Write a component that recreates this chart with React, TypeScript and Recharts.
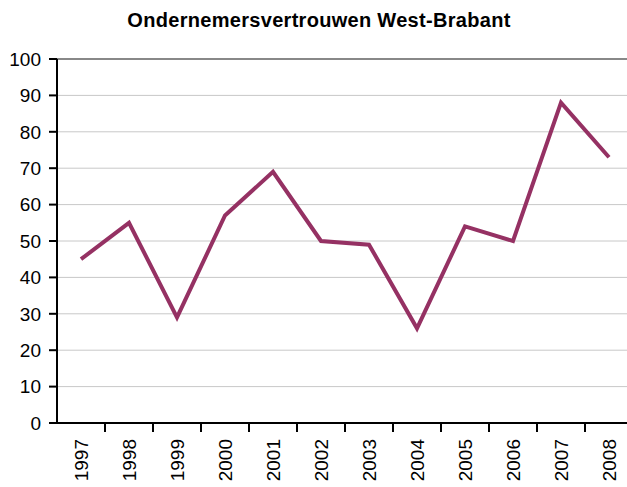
import React from 'react';
import { LineChart, Line, XAxis, YAxis, CartesianGrid, ReferenceLine } from 'recharts';

const years = ['1997', '1998', '1999', '2000', '2001', '2002', '2003', '2004', '2005', '2006', '2007', '2008'];
const confidence = [45, 55, 29, 57, 69, 50, 49, 26, 54, 50, 88, 73];
const yTicks = [0, 10, 20, 30, 40, 50, 60, 70, 80, 90, 100];

// categories sit in the middle of each band, tick marks on the band edges (Excel style)
const data = years.map((year, i) => ({ pos: i + 0.5, year, value: confidence[i] }));
const xTicks: number[] = [];
for (let i = 0; i <= years.length; i++) {
  xTicks.push(i);
  if (i < years.length) xTicks.push(i + 0.5);
}

const font = '"Liberation Sans", Arial, sans-serif';

const YearTick = (props: any) => {
  const { x, y, payload } = props;
  const v = payload.value;
  if (Number.isInteger(v)) {
    if (v === 0) return <g />;
    return <line x1={x} y1={y} x2={x} y2={y + 9} stroke="#000" strokeWidth={2} />;
  }
  const label = years[Math.floor(v)];
  return (
    <text
      x={x}
      y={y + 16}
      transform={`rotate(-90, ${x}, ${y + 16})`}
      textAnchor="end"
      dominantBaseline="central"
      fontSize={19}
      fontFamily={font}
      fill="#000"
    >
      {label}
    </text>
  );
};

export default function App() {
  return (
    <div style={{ position: 'absolute', left: 0, top: 0, width: 627, height: 487, overflow: 'hidden', background: '#fff' }}>
      <div
        style={{
          position: 'absolute',
          left: 0,
          top: 9,
          width: 638,
          textAlign: 'center',
          fontFamily: font,
          fontWeight: 'bold',
          fontSize: 20,
          letterSpacing: 0.3,
        }}
      >
        Ondernemersvertrouwen West-Brabant
      </div>
      <LineChart width={640} height={520} data={data} margin={{ top: 59, right: 7, left: 0, bottom: 0 }}>
        <CartesianGrid vertical={false} stroke="#c8c8c8" />
        <ReferenceLine y={100} stroke="#888" strokeWidth={2} />
        <XAxis
          dataKey="pos"
          type="number"
          domain={[0, 12]}
          ticks={xTicks}
          interval={0}
          height={97}
          tickSize={0}
          tickMargin={0}
          tickLine={false}
          axisLine={{ stroke: '#000', strokeWidth: 2 }}
          tick={<YearTick />}
        />
        <YAxis
          domain={[0, 100]}
          ticks={yTicks}
          interval={0}
          width={57}
          tickSize={8}
          tickMargin={8}
          axisLine={{ stroke: '#000', strokeWidth: 2 }}
          tickLine={{ stroke: '#000', strokeWidth: 2 }}
          tick={{ fill: '#000', fontSize: 19, fontFamily: font }}
        />
        <Line
          dataKey="value"
          stroke="#953163"
          strokeWidth={4}
          dot={false}
          isAnimationActive={false}
        />
      </LineChart>
    </div>
  );
}
